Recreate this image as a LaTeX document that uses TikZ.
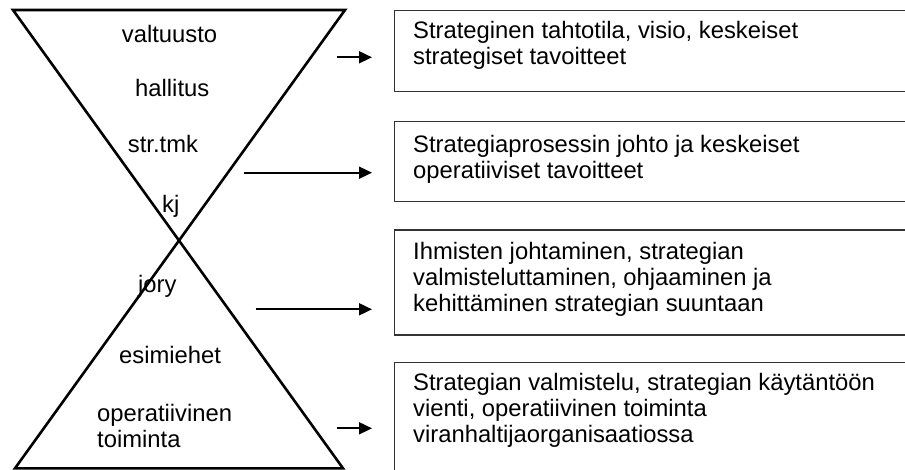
\documentclass[tikz,border=0pt]{standalone}
\usepackage{fontspec}
\setmainfont{Liberation Sans}
\usetikzlibrary{arrows.meta}
\begin{document}
\begin{tikzpicture}[x=1pt,y=-1pt,
  every node/.style={inner sep=0pt, font=\fontsize{23.8}{26}\selectfont},
  level/.style={anchor=base west, align=left},
  frame/.style={draw=black!80, line width=1.3pt, anchor=north west,
    minimum width=530pt, inner sep=0pt},
  boxtext/.style={anchor=base west, align=left},
  flow/.style={line width=1.8pt, -{Triangle[length=13pt,width=12pt]}}]
  \useasboundingbox (0,0) rectangle (905,470);
  \clip (0,0) rectangle (905,470);

  % hourglass outline
  \coordinate (tl) at (13,10);
  \coordinate (tr) at (345,10);
  \coordinate (bl) at (15,468.3);
  \coordinate (br) at (343,468.3);
  \draw[line width=2.6pt, line join=miter] (tl) -- (tr) -- (bl) -- (br) -- cycle;

  % levels of the organisation (multi-line nodes sit on their last baseline)
  \node[level] (valtuusto) at (121.7,42.7) {valtuusto};
  \node[level] (hallitus) at (135,96.7) {hallitus};
  \node[level] (strtmk) at (127.7,153) {str.tmk};
  \node[level] (kj) at (162,213) {kj};
  \node[level] (jory) at (138,293) {jory};
  \node[level] (esimiehet) at (119,363) {esimiehet};
  \node[level] (oper) at (97,447) {operatiivinen\\toiminta};

  % description boxes
  \node[frame, minimum height=80.7pt] (b1) at (394,10) {};
  \node[frame, minimum height=80.3pt] (b2) at (394,120.7) {};
  \node[frame, minimum height=105pt] (b3) at (394,229.3) {};
  \node[frame, minimum height=140pt] (b4) at (394,361.7) {};

  \node[boxtext] (t1) at (413,65)
    {Strateginen tahtotila, visio, keskeiset\\strategiset tavoitteet};
  \node[boxtext] (t2) at (413,179)
    {Strategiaprosessin johto ja keskeiset\\operatiiviset tavoitteet};
  \node[boxtext] (t3) at (413,312)
    {Ihmisten johtaminen, strategian\\valmisteluttaminen, ohjaaminen ja\\kehittäminen strategian suuntaan};
  \node[boxtext] (t4) at (413,442)
    {Strategian valmistelu, strategian käytäntöön\\vienti, operatiivinen toiminta\\viranhaltijaorganisaatiossa};

  % arrows from the levels to the descriptions
  \coordinate (a1s) at (336.7,57.3);
  \coordinate (a1e) at (372,57.3);
  \coordinate (a2s) at (244,172.7);
  \coordinate (a2e) at (372,172.7);
  \coordinate (a3s) at (255.7,309.3);
  \coordinate (a3e) at (372,309.3);
  \coordinate (a4s) at (336.7,428.3);
  \coordinate (a4e) at (372,428.3);
  \draw[flow] (a1s) -- (a1e);
  \draw[flow] (a2s) -- (a2e);
  \draw[flow] (a3s) -- (a3e);
  \draw[flow] (a4s) -- (a4e);
\end{tikzpicture}
\end{document}
